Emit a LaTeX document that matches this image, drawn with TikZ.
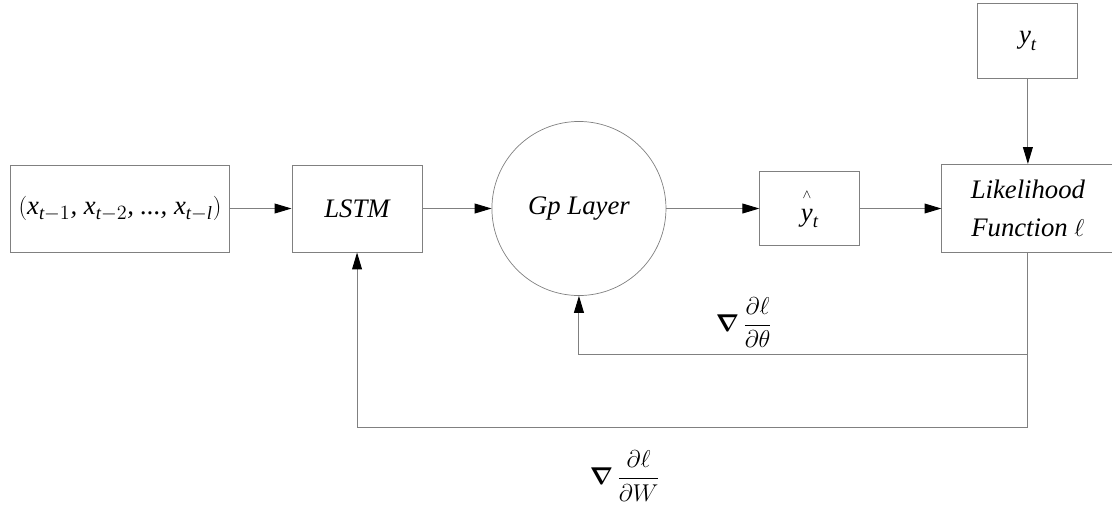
\documentclass[tikz,border=0pt]{standalone}
\usepackage{amsmath}
\usepackage{fontspec}
\setmainfont{Liberation Serif}
\usetikzlibrary{positioning,arrows.meta}
\definecolor{linegray}{RGB}{128,128,128}

\begin{document}
\begin{tikzpicture}[x=0.025cm, y=-0.025cm, font=\fontsize{19}{27}\selectfont\itshape,
    block/.style={rectangle, draw=linegray, line width=0.7pt, inner sep=0pt, align=center},
    flow/.style={draw=linegray, line width=0.7pt, -{Triangle[length=12pt, width=7pt, color=black]}}]
        \useasboundingbox (0,0) rectangle (1112,509);

        % forward path
        \node[block, minimum width=5.45cm, minimum height=2.175cm] (hist) at (120,208.5)
            {$(\text{x}_{\text{t}-1}\text{, }\text{x}_{\text{t}-2}\text{, ..., }\text{x}_{\text{t}-\text{l}})$};
        \node[block, minimum width=3.25cm, minimum height=2.175cm, right=1.55cm of hist] (lstm) {LSTM};
        \node[circle, draw=linegray, line width=0.5pt, minimum size=4.35cm, inner sep=0pt, right=1.725cm of lstm] (gp) {Gp Layer};
        \node[block, minimum width=2.5cm, minimum height=1.85cm, right=2.325cm of gp] (yhat)
            {$\overset{\raisebox{4pt}{$\scriptscriptstyle\wedge$}}{\text{y}}_{\text{t}}$};
        \node[block, minimum width=4.3cm, minimum height=2.2cm, right=2.025cm of yhat] (lik) {Likelihood\\Function $\ell$};
        \node[block, minimum width=2.5cm, minimum height=1.875cm, above=2.125cm of lik] (yt) {$\text{y}_{\text{t}}$};

        \draw[flow] (hist) -- (lstm);
        \draw[flow] (lstm) -- (gp);
        \draw[flow] (gp) -- (yhat);
        \draw[flow] (yhat) -- (lik);
        \draw[flow] (yt) -- (lik);

        % gradient feedback
        \coordinate (lvltheta) at (0,354);
        \coordinate (lvlw) at (0,427);
        \draw[flow] (lik.south) -- (lik.south |- lvltheta) -| (gp.south);
        \draw[flow] (lik.south) -- (lik.south |- lvlw) -| (lstm.south);

        \node (gradtheta) at (744,323) {$\boldsymbol{\nabla}\,\dfrac{\partial\ell}{\partial\theta}$};
        \node (gradw) at (625,476) {$\boldsymbol{\nabla}\,\dfrac{\partial\ell}{\partial W}$};
      \end{tikzpicture}
\end{document}
